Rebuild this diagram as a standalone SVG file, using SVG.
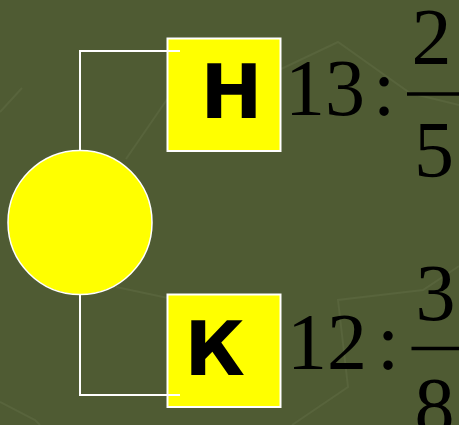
<svg xmlns="http://www.w3.org/2000/svg" width="459" height="425" viewBox="0 0 459 425">
<style>
.bg{fill:#4F5B33}
.deco{fill:none;stroke:#58643C;stroke-width:2}
.box{fill:#FFFF00;stroke:#FFFFFF;stroke-width:2}
.conn{fill:none;stroke:#FFFFFF;stroke-width:2}
.letter{font-family:"DejaVu Sans",sans-serif;font-weight:bold;font-size:74px;fill:#000}
.num{font-family:"Liberation Serif",serif;font-size:80px;fill:#000}
.bar{stroke:#000;stroke-width:3.5}
</style>
<rect class="bg" x="0" y="0" width="459" height="425"/>
<g id="background">
<polyline class="deco" points="0,112 22,88"/>
<polyline class="deco" points="126,159 168,98"/>
<polyline class="deco" points="279,70 338,42 410,93 459,105"/>
<polyline class="deco" points="116,287 168,298"/>
<polyline class="deco" points="459,266 423,290 338,300 348,387 292,425"/>
<polyline class="deco" points="0,402 35,420 40,425"/>
</g>
<g id="circle">
<circle cx="80" cy="222.5" r="72" fill="#FFFF00" stroke="#FFFFFF" stroke-width="1.5"/>
</g>
<g id="node-n">
<rect class="box" x="167.5" y="38.5" width="113" height="112.5"/>
<text class="letter" x="200.5" y="118">Н</text>
</g>
<g id="node-k">
<rect class="box" x="167.5" y="294.5" width="113" height="112.5"/>
<text class="letter" x="184.5" y="375">К</text>
</g>
<g id="connectors">
<polyline class="conn" points="80,150 80,51 180,51"/>
<polyline class="conn" points="80,295 80,395 180,395"/>
</g>
<g id="expr-top">
<text class="num" x="285" y="115">13</text>
<text class="num" x="373" y="115">:</text>
<text class="num" x="411.5" y="64">2</text>
<line class="bar" x1="407" y1="94" x2="459" y2="94"/>
<text class="num" x="414" y="177">5</text>
</g>
<g id="expr-bottom">
<text class="num" x="287" y="368.5">12</text>
<text class="num" x="377" y="368.5">:</text>
<text class="num" x="415.5" y="320">3</text>
<line class="bar" x1="411.5" y1="348.5" x2="459" y2="348.5"/>
<text class="num" x="414.5" y="432.5">8</text>
</g>
</svg>
